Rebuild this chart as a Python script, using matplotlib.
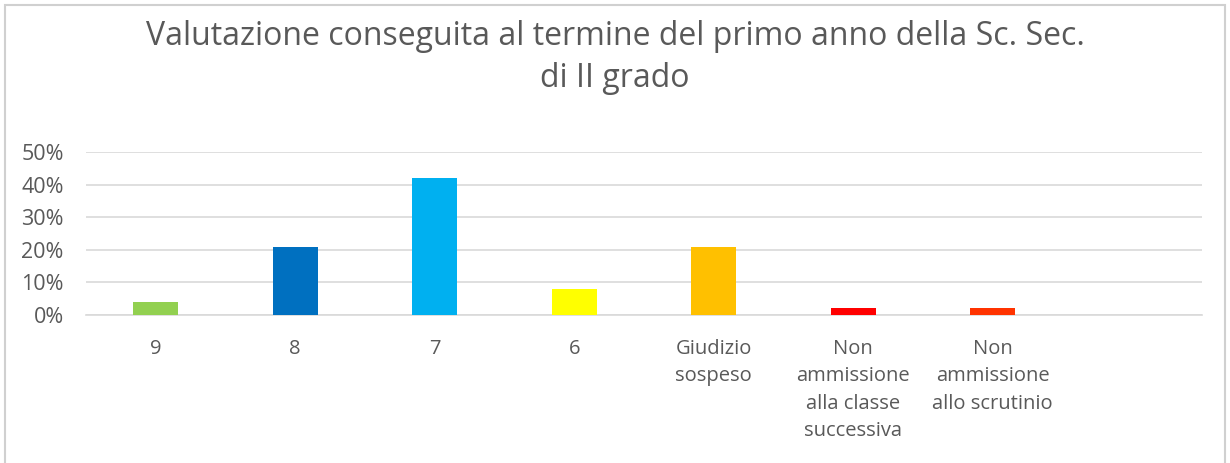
import matplotlib.pyplot as plt
from matplotlib.ticker import PercentFormatter
from matplotlib.patches import Rectangle

# Categorie e valori (frazioni)
categorie = ['9', '8', '7', '6', 'Giudizio\nsospeso',
             'Non\nammissione\nalla classe\nsuccessiva',
             'Non\nammissione\nallo scrutinio']
valori = [0.04, 0.21, 0.42, 0.08, 0.21, 0.02, 0.02]
colori = ['#92D050', '#0070C0', '#00B0F0', '#FFFF00', '#FFC000', '#FF0000', '#FF3300']

plt.rcParams['font.family'] = ['Open Sans', 'DejaVu Sans']
grigio = '#595959'

fig = plt.figure(figsize=(12.3, 4.63), dpi=100)
ax = fig.add_axes([0.0699, 0.3197, 0.9073, 0.352])

x = range(len(categorie))
ax.bar(x, valori, width=0.32, color=colori, zorder=3)

ax.set_xlim(-0.5, len(categorie) + 0.5)
ax.set_ylim(0, 0.5)
ax.set_yticks([0, 0.1, 0.2, 0.3, 0.4, 0.5])
ax.yaxis.set_major_formatter(PercentFormatter(1.0, decimals=0))
ax.set_xticks(list(x))
ax.set_xticklabels(categorie, linespacing=1.5)
ax.tick_params(axis='both', length=0, colors=grigio)
ax.tick_params(axis='x', pad=17, labelsize=14.5)
ax.tick_params(axis='y', pad=16, labelsize=15.5)

ax.grid(axis='y', color='#D9D9D9', linewidth=1.2, zorder=0)
for s in ['top', 'right', 'left']:
    ax.spines[s].set_visible(False)
ax.spines['bottom'].set_color('#D9D9D9')
ax.spines['bottom'].set_linewidth(1.2)

fig.text(0.5, 0.876, 'Valutazione conseguita al termine del primo anno della Sc. Sec.\ndi II grado',
         ha='center', va='center', fontsize=23, color=grigio, linespacing=1.34)

# bordo del grafico
fig.patches.append(Rectangle((0.004, -0.01), 0.992, 1.0, transform=fig.transFigure,
                             fill=False, edgecolor='#D0D0D0', linewidth=1.5))

fig.savefig('out.png', dpi=100)
